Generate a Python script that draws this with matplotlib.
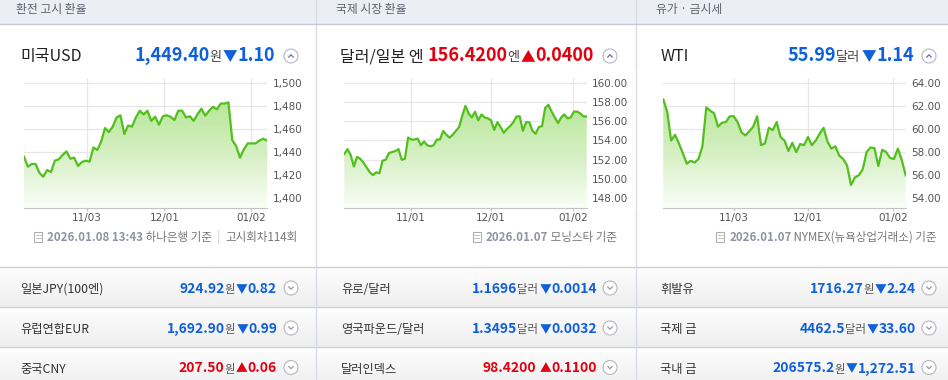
import matplotlib
matplotlib.use("Agg")
import matplotlib.pyplot as plt
import numpy as np
from matplotlib.patches import Rectangle, Circle
from matplotlib.colors import LinearSegmentedColormap

# ---- data -------------------------------------------------------------
section_titles = ["환전 고시 환율", "국제 시장 환율", "유가 · 금시세"]
main_names = ["미국USD", "달러/일본 엔", "WTI"]
main_prices = ["1,449.40", "156.4200", "55.99"]
main_units = ["원", "엔", "달러"]
main_changes = ["1.10", "0.0400", "1.14"]
main_up = [False, True, False]

usd_krw = [1436, 1427.4, 1429.7, 1429.7, 1422, 1418.7, 1424.5, 1422.8, 1432.6, 1433.7,
           1437.5, 1440.6, 1434.3, 1435.2, 1428, 1431.4, 1432.6, 1431.7, 1444, 1441.8,
           1449, 1460.8, 1457.3, 1462, 1470, 1471.8, 1455.6, 1463, 1462, 1470,
           1475.8, 1472.6, 1475.8, 1467, 1470.6, 1463.7, 1471, 1471.8, 1470.6, 1467.7,
           1475.8, 1475.8, 1470, 1471, 1467, 1472.9, 1477.5, 1471.5, 1475.8, 1479.2,
           1477, 1482, 1482, 1483, 1450.4, 1445.2, 1435.2, 1442.4, 1447.5, 1447.5,
           1447.5, 1449.9, 1451.6, 1450]
usd_jpy = [152.6, 153.1, 152.5, 151.3, 152.3, 152.1, 151.7, 151.2, 150.7, 150.4,
           150.7, 150.6, 151.9, 152.0, 152.7, 152.8, 152.9, 153.1, 152.0, 152.1,
           154.3, 154.1, 154.1, 154.2, 153.5, 153.9, 153.5, 153.4, 153.5, 154.1,
           154.1, 155.0, 154.6, 154.3, 154.6, 155.0, 155.4, 156.6, 157.6, 156.8,
           156.4, 157.0, 156.1, 156.7, 156.4, 156.3, 156.1, 155.1, 155.9, 155.4,
           154.8, 155.2, 155.5, 155.9, 156.5, 156.5, 155.0, 155.9, 155.9, 155.0,
           154.7, 155.4, 155.5, 157.4, 157.7, 157.0, 156.4, 155.8, 156.4, 156.7,
           156.3, 156.4, 157.0, 157.0, 156.8, 156.5, 156.5]
wti = [62.56, 61.5, 59.0, 59.5, 58.75, 57.9, 57.0, 57.25, 57.1, 57.4,
       58.5, 61.87, 61.58, 61.35, 60.2, 60.54, 60.6, 61.1, 61.1, 60.6,
       59.7, 59.45, 59.8, 60.2, 61.1, 58.6, 58.75, 60.1, 59.9, 60.6,
       59.3, 59.0, 58.1, 58.8, 58.0, 58.7, 58.6, 59.3, 58.6, 59.0,
       59.6, 60.1, 58.9, 58.3, 58.5, 57.7, 57.4, 56.85, 55.15, 55.8,
       56.0, 56.5, 58.0, 58.4, 58.35, 56.8, 58.2, 58.0, 57.5, 57.4,
       58.3, 57.3, 56.0]

usd_ticks = [1400, 1420, 1440, 1460, 1480, 1500]
jpy_ticks = [148, 150, 152, 154, 156, 158, 160]
wti_ticks = [54, 56, 58, 60, 62, 64]
usd_dates = ["11/03", "12/01", "01/02"]
jpy_dates = ["11/01", "12/01", "01/02"]
wti_dates = ["11/03", "12/01", "01/02"]

foot_dates = ["2026.01.08 13:43", "2026.01.07", "2026.01.07"]
foot_src = [" 하나은행 기준", " 모닝스타 기준", " NYMEX(뉴욕상업거래소) 기준"]

row_names = [["일본JPY(100엔)", "유럽연합EUR", "중국CNY"],
             ["유로/달러", "영국파운드/달러", "달러인덱스"],
             ["휘발유", "국제 금", "국내 금"]]
row_prices = [["924.92", "1,692.90", "207.50"],
              ["1.1696", "1.3495", "98.4200"],
              ["1716.27", "4462.5", "206575.2"]]
row_units = [["원", "원", "원"],
             ["달러", "달러", " "],
             ["원", "달러", "원"]]
row_changes = [["0.82", "0.99", "0.06"],
               ["0.0014", "0.0032", "0.1100"],
               ["2.24", "33.60", "1,272.51"]]
row_up = [[False, False, True],
          [False, False, True],
          [False, False, False]]

# ---- style ------------------------------------------------------------
W, H = 948, 380
BLUE = "#1060dc"
RED = "#e3000f"
LINE = "#52bf1c"
plt.rcParams["font.family"] = ["Noto Sans CJK KR", "DejaVu Sans"]

fig = plt.figure(figsize=(W / 100, H / 100), dpi=100)
renderer = fig.canvas.get_renderer()

bg = fig.add_axes([0, 0, 1, 1])
bg.axis("off")

# header band
bg.add_patch(Rectangle((0, 0), W, 24, color="#eceef5", lw=0))
bg.plot([0, W], [24, 24], color="#c6cad8", lw=1)

# bottom rows with soft gradient
row_cmap = LinearSegmentedColormap.from_list("row", ["#fefefe", "#eeeeee"])
grad = np.linspace(0, 1, 60).reshape(-1, 1)
for top in (267, 307, 347):
    bg.imshow(grad, extent=(0, W, top + 40, top), cmap=row_cmap, aspect="auto", zorder=0)
    bg.plot([0, W], [top, top], color="#cfd0d6", lw=1, zorder=1)

# panel separators
for sx in (316.5, 636.5):
    bg.plot([sx, sx], [0, H], color="#d9dbe2", lw=1, zorder=1)

bg.set_xlim(0, W)
bg.set_ylim(H, 0)


def chain_right(xr, y, parts):
    # parts placed right to left, ending at xr (pixels), baseline at y
    x = xr
    for s, size, color, weight in reversed(parts):
        t = fig.text(x / W, 1 - y / H, s, ha="right", va="baseline",
                     fontsize=size, color=color, fontweight=weight)
        x -= t.get_window_extent(renderer).width
    return x


def circle_btn(cx, cy, up):
    bg.add_patch(Circle((cx, cy), 7, facecolor="white", edgecolor="#b5b8c2", lw=0.8, zorder=3))
    if up:
        bg.plot([cx - 2.2, cx, cx + 2.2], [cy + 1, cy - 1.2, cy + 1], color="#5b6fb5", lw=0.9, zorder=4)
    else:
        bg.plot([cx - 2.2, cx, cx + 2.2], [cy - 1, cy + 1.2, cy - 1], color="#9a9a9a", lw=0.9, zorder=4)


fill_cmap = LinearSegmentedColormap.from_list("fill", ["#b8e79a", "#d6f0c4", "#fafdf8"])


def chart(x0, x1, vals, ylim, yticks, yfmt, tick_frac, dates):
    y0, y1 = 78, 207.7
    ax = fig.add_axes([x0 / W, 1 - y1 / H, (x1 - x0) / W, (y1 - y0) / H])
    ax.patch.set_alpha(0)
    n = len(vals)
    x = np.arange(n)
    ax.plot(x, vals, color=LINE, lw=1.6, zorder=3, solid_joinstyle="round")
    poly = ax.fill_between(x, vals, ylim[0], color="none", lw=0)
    # gradient runs from the series top down to the axis floor
    im = ax.imshow(np.linspace(0, 1, 100).reshape(-1, 1), extent=(0, n - 1, ylim[0], max(vals)),
                   cmap=fill_cmap, aspect="auto", origin="upper", zorder=2)
    im.set_clip_path(poly.get_paths()[0], transform=ax.transData)
    ax.set_xlim(0, n - 1)
    ax.set_ylim(ylim)
    ax.yaxis.tick_right()
    ax.set_yticks(yticks, [yfmt.format(v) for v in yticks])
    ax.set_xticks([f * (n - 1) for f in tick_frac], dates)
    ax.grid(color="#e7e7e7", lw=0.9)
    ax.set_axisbelow(True)
    for s in ("top", "left", "right"):
        ax.spines[s].set_visible(False)
    ax.spines["bottom"].set_color("#c4c4c4")
    ax.tick_params(axis="y", length=0, pad=4, labelsize=7.5, labelcolor="#555555")
    ax.tick_params(axis="x", length=2.5, color="#c4c4c4", pad=1.5, labelsize=7.5, labelcolor="#555555")
    for lbl in ax.get_yticklabels() + ax.get_xticklabels():
        lbl.set_fontfamily("DejaVu Sans")
    return ax


chart(24, 267, usd_krw, (1391.9, 1504.1), usd_ticks, "{:,}", [0.258, 0.578, 0.934], usd_dates)
chart(344.3, 586.7, usd_jpy, (147.02, 160.49), jpy_ticks, "{:.2f}", [0.2737, 0.6039, 0.945], jpy_dates)
chart(663.3, 905.7, wti, (53.19, 64.41), wti_ticks, "{:.2f}", [0.290, 0.5956, 0.949], wti_dates)

# the middle panel's value labels are cut off by the container edge
fig.add_artist(Rectangle((628.5 / W, 1 - 210 / H), 7.5 / W, 140 / H, transform=fig.transFigure,
                         facecolor="white", lw=0, zorder=5))

# ---- texts ------------------------------------------------------------
head_x = [16, 336, 656]
name_x = [20, 340, 661]
price_right = [275, 594, 914]
btn_x = [291, 610, 929]
foot_right = [298, 617, 937]
row_label_x = [20, 341, 660]
row_right = [277, 597, 916]
row_base = [293, 333, 372.5]

for i in range(3):
    fig.text(head_x[i] / W, 1 - 13 / H, section_titles[i], fontsize=8.5, color="#5c6170", va="baseline")
    fig.text(name_x[i] / W, 1 - 61 / H, main_names[i], fontsize=11.5, color="#222222", va="baseline")
    col = RED if main_up[i] else BLUE
    chain_right(price_right[i], 61, [
        (main_prices[i], 13, col, "bold"),
        (main_units[i], 9.5, "#444444", "normal"),
        (" ", 4, col, "normal"),
        ("▲" if main_up[i] else "▼", 10.5, col, "normal"),
        (main_changes[i], 13, col, "bold"),
    ])
    circle_btn(btn_x[i], 56, True)

    # footnote
    parts = [(foot_dates[i], 8.3, "#8e94a2", "bold"), (foot_src[i], 8.3, "#777777", "normal")]
    if i == 0:
        parts += [("  |  ", 8.3, "#cccccc", "normal"), ("고시회차114회", 8.3, "#777777", "normal")]
    xl = chain_right(foot_right[i], 241, parts)
    bg.add_patch(Rectangle((xl - 13, 232), 8, 10, facecolor="white", edgecolor="#b0b0b0", lw=0.8, zorder=3))
    for yy in (235, 238):
        bg.plot([xl - 11.5, xl - 6.5], [yy, yy], color="#b8b8b8", lw=0.6, zorder=4)

    # rows
    for r in range(3):
        fig.text(row_label_x[i] / W, 1 - row_base[r] / H, row_names[i][r], fontsize=8.8,
                 color="#333333", va="baseline")
        up = row_up[i][r]
        col = RED if up else BLUE
        chain_right(row_right[i], row_base[r], [
            (row_prices[i][r], 10, col, "bold"),
            (row_units[i][r], 8.2, "#555555", "normal"),
            (" ", 4, col, "normal"),
            ("▲" if up else "▼", 8.5, col, "normal"),
            (row_changes[i][r], 10, col, "bold"),
        ])
        circle_btn(btn_x[i], row_base[r] - 5, False)

fig.savefig("out.png", dpi=100)
